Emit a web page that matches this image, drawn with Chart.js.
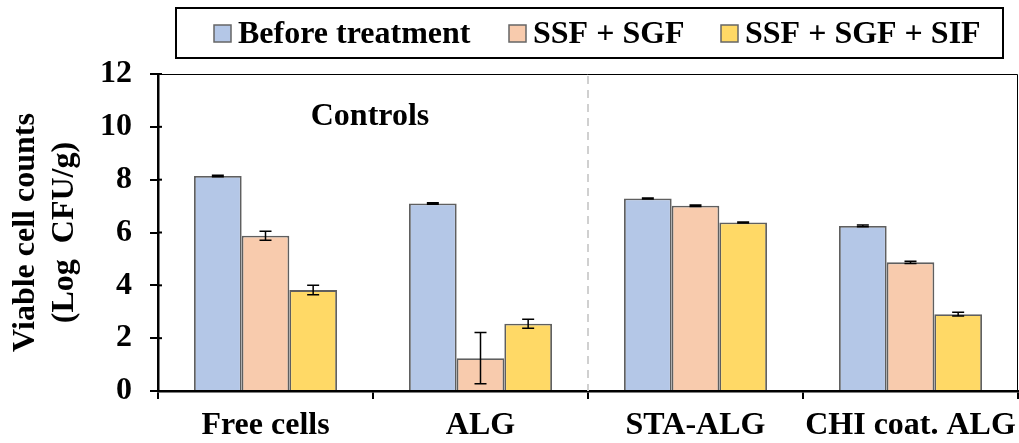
<!DOCTYPE html>
<html>
<head>
<meta charset="utf-8">
<script src="https://cdn.jsdelivr.net/npm/chart.js@4.4.1/dist/chart.umd.min.js"></script>
<style>
  html, body { margin: 0; padding: 0; background: #fff; }
  #wrap { width: 1019px; height: 443px; position: relative; }
</style>
</head>
<body>
<div id="wrap"><canvas id="viabilityChart" width="1019" height="443"></canvas></div>
<script>
// Data
const categories = ['Free cells', 'ALG', 'STA-ALG', 'CHI coat. ALG'];
const seriesNames = ['Before treatment', 'SSF + SGF', 'SSF + SGF + SIF'];
const beforeTreatment = [8.14, 7.10, 7.29, 6.25];
const afterSGF = [5.88, 1.24, 7.01, 4.87];
const afterSIF = [3.82, 2.55, 6.38, 2.91];
const beforeErr = [0.03, 0.03, 0.02, 0.03];
const sgfErr = [0.17, 0.97, 0.03, 0.04];
const sifErr = [0.18, 0.17, 0.02, 0.07];
const yTicks = [0, 2, 4, 6, 8, 10, 12];

const FONT = "'Liberation Serif', 'Times New Roman', serif";
const colors = ['#B4C7E7', '#F8CBAD', '#FFD966'];

// error bars, legend box, frame, divider and "Controls" label
const extras = {
    id: 'extras',
    afterDatasetsDraw(chart) {
        const ctx = chart.ctx;
        const y = chart.scales.y;
        const area = chart.chartArea;

        // dashed divider between controls and coated beads
        const xs = chart.scales.x;
        const divX = (xs.getPixelForValue(1) + xs.getPixelForValue(2)) / 2;
        ctx.save();
        ctx.strokeStyle = '#d0d0d0';
        ctx.lineWidth = 2;
        ctx.setLineDash([8, 6]);
        ctx.beginPath();
        ctx.moveTo(divX, area.top + 2);
        ctx.lineTo(divX, area.bottom);
        ctx.stroke();
        ctx.restore();

        // error bars
        chart.data.datasets.forEach((ds, i) => {
            const meta = chart.getDatasetMeta(i);
            meta.data.forEach((bar, j) => {
                const v = ds.data[j];
                const e = ds.errors[j];
                const top = y.getPixelForValue(v + e);
                const bot = y.getPixelForValue(v - e);
                ctx.save();
                ctx.strokeStyle = '#000';
                ctx.lineWidth = 1.5;
                ctx.beginPath();
                ctx.moveTo(bar.x, top);
                ctx.lineTo(bar.x, bot);
                ctx.moveTo(bar.x - 6, top);
                ctx.lineTo(bar.x + 6, top);
                ctx.moveTo(bar.x - 6, bot);
                ctx.lineTo(bar.x + 6, bot);
                ctx.stroke();
                ctx.restore();
            });
        });

        // thin frame on top and right
        ctx.save();
        ctx.strokeStyle = '#000';
        ctx.lineWidth = 1;
        ctx.beginPath();
        ctx.moveTo(area.left, area.top + 0.5);
        ctx.lineTo(area.right - 0.5, area.top + 0.5);
        ctx.lineTo(area.right - 0.5, area.bottom);
        ctx.stroke();

        // inner half of the y ticks
        ctx.lineWidth = 2;
        yTicks.forEach(t => {
            const py = y.getPixelForValue(t);
            ctx.beginPath();
            ctx.moveTo(area.left, py);
            ctx.lineTo(area.left + 4, py);
            ctx.stroke();
        });

        // "Controls" label
        ctx.fillStyle = '#000';
        ctx.font = 'bold 32px ' + FONT;
        ctx.textAlign = 'center';
        ctx.textBaseline = 'alphabetic';
        ctx.fillText('Controls', 370, 125);

        // legend with border box
        ctx.textAlign = 'left';
        ctx.lineWidth = 2;
        ctx.strokeRect(176, 8, 827, 50);
        const boxX = [214, 509, 721];
        const textX = [238, 533, 745];
        chart.data.datasets.forEach((ds, i) => {
            ctx.fillStyle = ds.backgroundColor;
            ctx.fillRect(boxX[i], 25, 17, 17);
            ctx.strokeStyle = '#666';
            ctx.lineWidth = 1.5;
            ctx.strokeRect(boxX[i], 25, 17, 17);
            ctx.fillStyle = '#000';
            ctx.fillText(ds.label, textX[i], 43);
        });
        ctx.restore();
    }
};

const ctx = document.getElementById('viabilityChart').getContext('2d');
new Chart(ctx, {
    type: 'bar',
    data: {
        labels: categories,
        datasets: [
            { label: seriesNames[0], data: beforeTreatment, errors: beforeErr, backgroundColor: colors[0] },
            { label: seriesNames[1], data: afterSGF, errors: sgfErr, backgroundColor: colors[1] },
            { label: seriesNames[2], data: afterSIF, errors: sifErr, backgroundColor: colors[2] }
        ].map(d => Object.assign(d, {
            borderColor: '#5f5f5f',
            borderWidth: 1.8,
            categoryPercentage: 0.665,
            barPercentage: 1.0
        }))
    },
    options: {
        responsive: false,
        animation: false,
        layout: { padding: { top: 74, right: 1, left: 0, bottom: 0 } },
        plugins: {
            legend: { display: false },
            tooltip: { enabled: false }
        },
        scales: {
            x: {
                afterFit: s => { s.height = 52; s.paddingLeft = 0; s.paddingRight = 0; },
                border: { display: true, color: '#000', width: 2.5 },
                grid: { display: true, drawOnChartArea: false, color: '#000', lineWidth: 2, tickLength: 8 },
                ticks: {
                    color: '#000', padding: 8, autoSkip: false, maxRotation: 0, minRotation: 0,
                    font: { family: FONT, size: 32, weight: 'bold' }
                }
            },
            y: {
                min: 0,
                max: 12,
                afterFit: s => { s.width = 158; s.paddingTop = 0; s.paddingBottom = 0; },
                afterBuildTicks: s => { s.ticks = yTicks.map(v => ({ value: v })); },
                border: { display: true, color: '#000', width: 2.5 },
                grid: { display: true, drawOnChartArea: false, color: '#000', lineWidth: 2, tickLength: 8 },
                ticks: { color: '#000', padding: 18, font: { family: FONT, size: 32, weight: 'bold' } },
                title: {
                    display: true,
                    text: ['Viable cell counts', '(Log  CFU/g)'],
                    color: '#000',
                    padding: { top: 7, bottom: 2 },
                    font: { family: FONT, size: 32, weight: 'bold', lineHeight: 1.2 }
                }
            }
        }
    },
    plugins: [extras]
});
</script>
</body>
</html>
